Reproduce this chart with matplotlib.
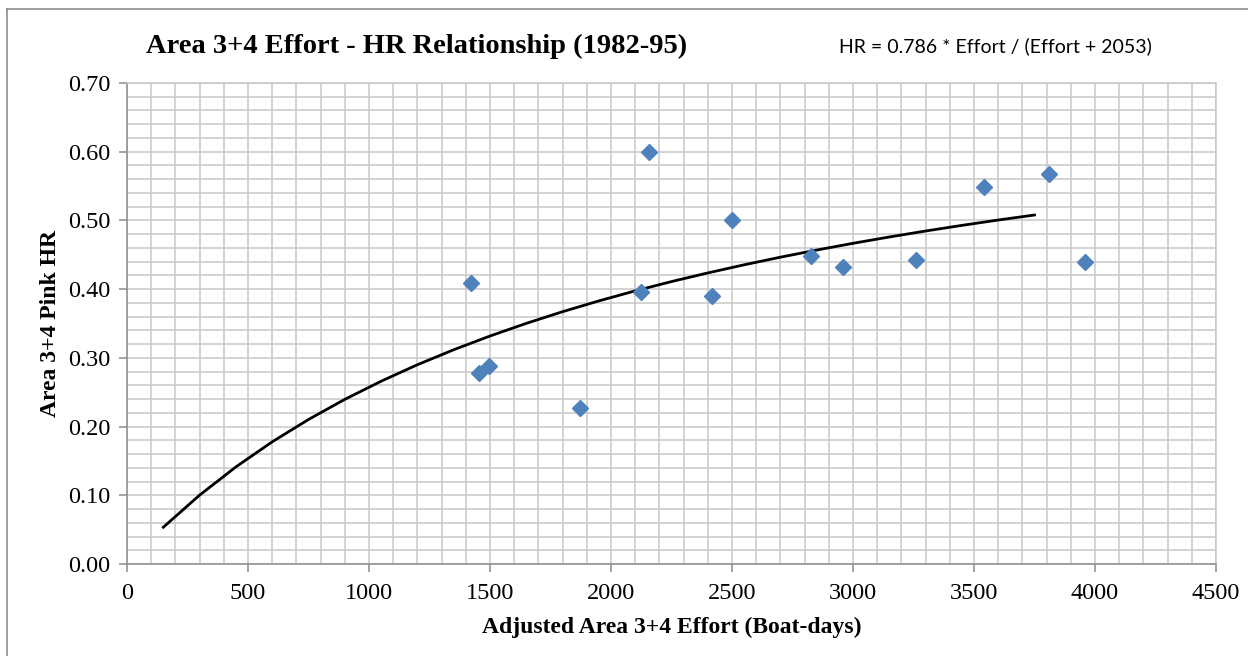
import matplotlib
matplotlib.use("Agg")
import matplotlib.pyplot as plt
from matplotlib.lines import Line2D
from matplotlib.ticker import MultipleLocator

# observed effort / harvest rate, 1982-95
effort = [1421, 1454, 1496, 1872, 2124, 2157, 2417, 2500, 2826, 2959, 3260, 3541, 3810, 3959]
hr = [0.409, 0.278, 0.288, 0.227, 0.396, 0.600, 0.390, 0.501, 0.448, 0.432, 0.442, 0.549, 0.568, 0.440]

# fitted curve HR = 0.786 * Effort / (Effort + 2053), points as plotted
fit_effort = [150, 300, 450, 600, 750, 900, 1050, 1200, 1350, 1500, 1650, 1800, 1950,
              2100, 2250, 2400, 2550, 2700, 2850, 3000, 3150, 3300, 3450, 3600, 3750]
fit_hr = [0.0535, 0.1002, 0.1413, 0.1778, 0.2103, 0.2396, 0.2660, 0.2900, 0.3118,
          0.3318, 0.3502, 0.3672, 0.3829, 0.3975, 0.4110, 0.4236, 0.4354, 0.4465,
          0.4569, 0.4667, 0.4759, 0.4846, 0.4928, 0.5006, 0.5079]

SERIF = "Liberation Serif"
GRID = "#c8c8c8"
AXIS = "#8c8c8c"

fig = plt.figure(figsize=(12.48, 6.56), dpi=100)
ax = fig.add_axes([127 / 1248, 1 - 564 / 656, (1216 - 127) / 1248, (564 - 83) / 656])

ax.plot(fit_effort, fit_hr, color="black", linewidth=2.0, zorder=3)
ax.plot(effort, hr, linestyle="none", marker="D", markersize=8.5,
        color="#4f81bd", markeredgecolor="#4f81bd", zorder=4)

ax.set_xlim(0, 4500)
ax.set_ylim(0, 0.70)
ax.xaxis.set_major_locator(MultipleLocator(500))
ax.xaxis.set_minor_locator(MultipleLocator(100))
ax.yaxis.set_major_locator(MultipleLocator(0.10))
ax.yaxis.set_minor_locator(MultipleLocator(0.02))
ax.yaxis.set_major_formatter(lambda v, _: f"{v:.2f}")
ax.grid(True, which="both", color=GRID, linewidth=1.1, zorder=0)
ax.set_axisbelow(True)

for side in ["top", "right"]:
    ax.spines[side].set_color(GRID)
    ax.spines[side].set_linewidth(1.1)
for side in ["left", "bottom"]:
    ax.spines[side].set_color(AXIS)
    ax.spines[side].set_linewidth(1.1)

ax.tick_params(which="major", direction="out", length=6, width=1.1, color=AXIS,
               labelsize=17.5)
ax.tick_params(axis="x", pad=8)
ax.tick_params(axis="y", pad=6)
ax.tick_params(which="minor", length=0)
for lbl in ax.get_xticklabels() + ax.get_yticklabels():
    lbl.set_fontfamily(SERIF)

ax.set_xlabel("Adjusted Area 3+4 Effort (Boat-days)", fontfamily=SERIF,
              fontweight="bold", fontsize=17, labelpad=9)
ax.set_ylabel("Area 3+4 Pink HR", fontfamily=SERIF, fontweight="bold",
              fontsize=17, labelpad=5)

fig.text(417 / 1248, 1 - 46 / 656, "Area 3+4 Effort - HR Relationship (1982-95)",
         ha="center", va="center", fontfamily=SERIF, fontweight="bold", fontsize=20.5)
fig.text(995 / 1248, 1 - 46 / 656, "HR = 0.786 * Effort / (Effort + 2053)",
         ha="center", va="center", fontfamily="Lato", fontsize=14)

# outer chart border (cut by image edge at right/bottom)
fig.add_artist(Line2D([7 / 1248, 7 / 1248], [0, 1 - 9 / 656],
                      transform=fig.transFigure, color="#8c8c8c", linewidth=1.2))
fig.add_artist(Line2D([7 / 1248, 1], [1 - 9 / 656, 1 - 9 / 656],
                      transform=fig.transFigure, color="#8c8c8c", linewidth=1.2))

fig.savefig("out.png", dpi=100)
